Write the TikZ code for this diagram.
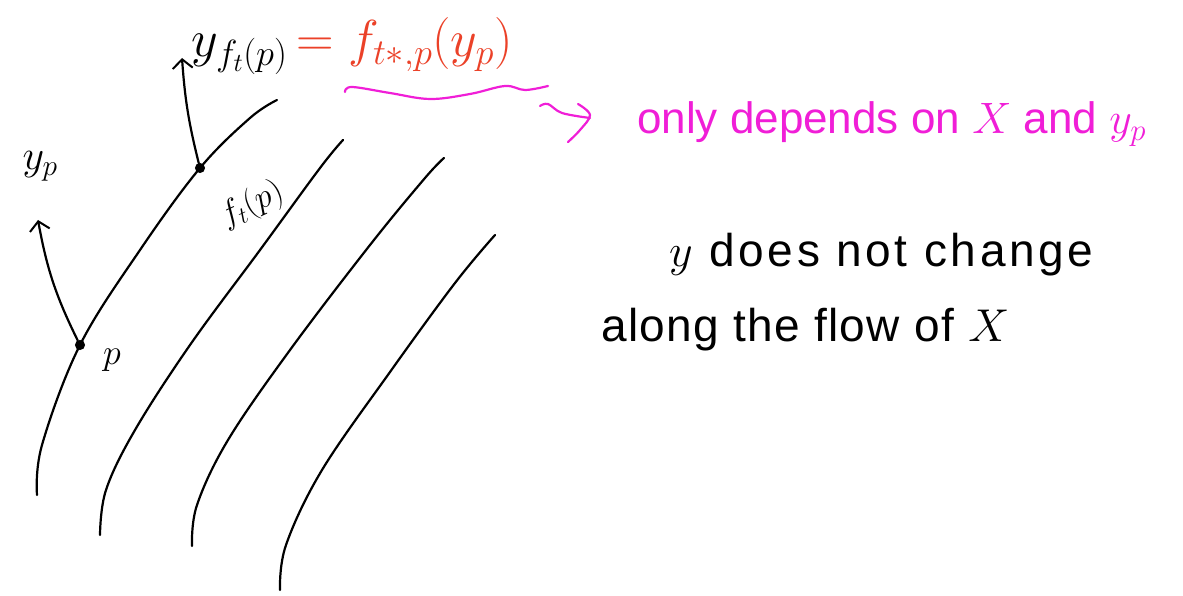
\RequirePackage{fix-cm}
\documentclass[tikz,border=0pt]{standalone}
\usepackage{fontspec}
\setmainfont{Liberation Sans}
\usetikzlibrary{arrows.meta}
\definecolor{mag}{RGB}{240,30,215}
\definecolor{redt}{RGB}{235,65,40}
\begin{document}
\begin{tikzpicture}[x=1pt,y=-1pt,
  flow/.style={line width=2.2pt, line cap=round, line join=round},
  vec/.style={line width=2.2pt, line cap=round, -{Straight Barb[length=9pt,width=20pt,line width=2pt]}},
  dot/.style={circle, fill=black, draw=black, line width=1pt, inner sep=0pt, minimum size=9pt},
  lab/.style={inner sep=1pt}]
\useasboundingbox (0,0) rectangle (1183,596);
% flow lines
\draw[flow] plot[smooth, tension=0.6] coordinates {(37,495) (42,445) (80,345) (140,250) (200,168) (250,118) (277,100)};
\draw[flow] plot[smooth, tension=0.6] coordinates {(100,535) (106,490) (135,430) (190,345) (260,250) (320,168) (343,140)};
\draw[flow] plot[smooth, tension=0.6] coordinates {(192,546) (197,505) (228,440) (290,350) (370,245) (425,178) (444,158)};
\draw[flow] plot[smooth, tension=0.6] coordinates {(280,590) (286,545) (322,470) (390,372) (455,283) (495,235)};
% points
\node[dot] (P) at (80,345) {};
\node[dot] (F) at (200,168) {};
\coordinate (yP) at (38,220);
\coordinate (yF) at (182,58);
\draw[vec] (P) to[bend left=8] (yP);
\draw[vec] (F) to[bend left=5] (yF);
% labels
\node[lab, font=\fontsize{42}{48}\selectfont] (lyp) at (40,166) {$y_p$};
\node[lab, font=\fontsize{36}{42}\selectfont] (lp) at (112,360) {$p$};
\node[lab, font=\fontsize{34}{40}\selectfont, rotate=25] (lft) at (252,205) {$f_t(p)$};
\node[lab, font=\fontsize{52}{58}\selectfont, anchor=west] (top) at (190,46) {$y_{f_t(p)}$\,{\color{redt}$=f_{t*,p}(y_p)$}};
% magenta wavy underline and squiggle arrow
\draw[flow, mag] plot[smooth, tension=0.6] coordinates {(345,92) (352,87) (390,93) (430,99) (470,94) (505,86) (525,90) (548,86)};
\draw[flow, mag] plot[smooth, tension=0.6] coordinates {(540,106) (548,104) (562,113) (590,118)};
\draw[flow, mag] plot[smooth, tension=0.6] coordinates {(578,104) (590,115) (580,130) (568,142)};
\node[lab, mag, font=\fontsize{44}{50}\selectfont, anchor=west] (only) at (636,124) {only depends on $X$ and $y_p$};
% black text
\node[lab, font=\fontsize{46}{52}\selectfont\addfontfeatures{LetterSpace=8}, anchor=west] (t1) at (668,255) {$y$ does not change};
\node[lab, font=\fontsize{46}{52}\selectfont\addfontfeatures{LetterSpace=3}, anchor=west] (t2) at (600,330) {along the flow of $X$};
\end{tikzpicture}
\end{document}
